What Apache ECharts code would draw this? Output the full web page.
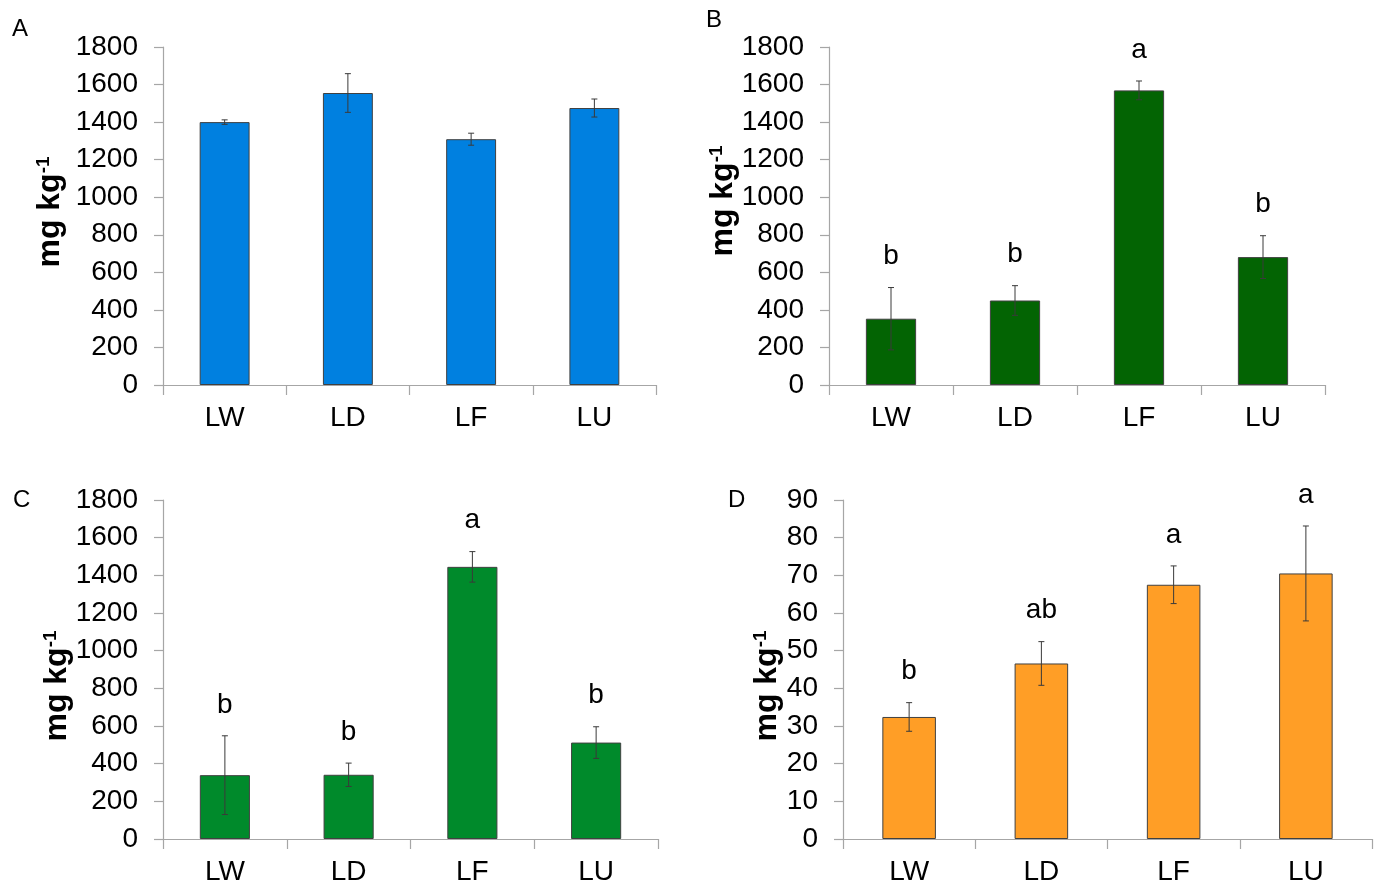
<!DOCTYPE html>
<html>
<head>
<meta charset="utf-8">
<script src="https://cdn.jsdelivr.net/npm/echarts@6/dist/echarts.min.js"></script>
<style>
html,body{margin:0;padding:0;background:#fff;}
#chart{width:1378px;height:885px;}
</style>
</head>
<body>
<div id="chart"></div>
<script>
const categories = ['LW', 'LD', 'LF', 'LU'];

const meanA = [1400, 1555, 1309, 1475];
const errA = [12, 103, 32, 48];
const lettersA = ['', '', '', ''];

const meanB = [353, 450, 1569, 681];
const errB = [166, 79, 50, 114];
const lettersB = ['b', 'b', 'a', 'b'];

const meanC = [339, 341, 1445, 512];
const errC = [209, 62, 81, 84];
const lettersC = ['b', 'b', 'a', 'b'];

const meanD = [32.4, 46.6, 67.5, 70.5];
const errD = [3.8, 5.8, 5.0, 12.6];
const lettersD = ['b', 'ab', 'a', 'a'];

const panelLetters = ['A', 'B', 'C', 'D'];

const FONT = '"Liberation Sans", Arial, sans-serif';
const AXIS_GRAY = '#a6a6a6';

const grids = [
  {left: 163, top: 47, width: 493, height: 338},
  {left: 829, top: 47, width: 496, height: 338},
  {left: 163, top: 500, width: 495, height: 339},
  {left: 843, top: 500, width: 529, height: 339}
];

const panels = [
  {mean: meanA, err: errA, letters: lettersA, color: '#0080e0', max: 1800, interval: 200},
  {mean: meanB, err: errB, letters: lettersB, color: '#036403', max: 1800, interval: 200},
  {mean: meanC, err: errC, letters: lettersC, color: '#008a2b', max: 1800, interval: 200},
  {mean: meanD, err: errD, letters: lettersD, color: '#ff9e26', max: 90, interval: 10}
];

function errorRenderer(letters) {
  return function (params, api) {
    const i = api.value(0);
    const m = api.value(1);
    const e = api.value(2);
    const hi = api.coord([i, m + e]);
    const lo = api.coord([i, m - e]);
    const cap = 3;
    const lineStyle = {stroke: '#3a3a3a', lineWidth: 1};
    const children = [
      {type: 'line', shape: {x1: hi[0], y1: hi[1], x2: lo[0], y2: lo[1]}, style: lineStyle},
      {type: 'line', shape: {x1: hi[0] - cap, y1: hi[1], x2: hi[0] + cap, y2: hi[1]}, style: lineStyle},
      {type: 'line', shape: {x1: lo[0] - cap, y1: lo[1], x2: lo[0] + cap, y2: lo[1]}, style: lineStyle}
    ];
    if (letters[i]) {
      children.push({
        type: 'text',
        x: hi[0], y: hi[1] - 31,
        style: {text: letters[i], fontSize: 28, fontFamily: FONT, fill: '#000', align: 'center', verticalAlign: 'middle'}
      });
    }
    return {type: 'group', children: children};
  };
}

const xAxes = [], yAxes = [], series = [];
panels.forEach(function (p, k) {
  xAxes.push({
    type: 'category', gridIndex: k, data: categories,
    axisLine: {lineStyle: {color: AXIS_GRAY, width: 1.2}},
    axisTick: {show: true, length: 10, lineStyle: {color: AXIS_GRAY, width: 1.2}},
    axisLabel: {color: '#000', fontSize: 28, fontFamily: FONT, margin: 19}
  });
  yAxes.push({
    type: 'value', gridIndex: k, min: 0, max: p.max, interval: p.interval,
    splitLine: {show: false},
    axisLine: {show: true, lineStyle: {color: AXIS_GRAY, width: 1.2}},
    axisTick: {show: true, length: 9, lineStyle: {color: AXIS_GRAY, width: 1.2}},
    axisLabel: {color: '#000', fontSize: 28, fontFamily: FONT, margin: 25,
      formatter: function (v) { return String(v); }}
  });
  series.push({
    type: 'bar', xAxisIndex: k, yAxisIndex: k, data: p.mean,
    barWidth: '40.5%',
    itemStyle: {color: p.color, borderColor: '#404040', borderWidth: 1},
    silent: true
  });
  series.push({
    type: 'custom', xAxisIndex: k, yAxisIndex: k,
    data: categories.map(function (c, i) { return [i, p.mean[i], p.err[i]]; }),
    encode: {x: 0, y: 1},
    renderItem: errorRenderer(p.letters),
    clip: false, silent: true, z: 5
  });
});

const titlePos = [[50, 212], [723, 201], [57, 686], [767, 686]];
const letterPos = [[12, 17], [706, 8], [13, 488], [728, 488]];
const graphics = [];
titlePos.forEach(function (pos) {
  graphics.push({
    type: 'text', x: pos[0], y: pos[1], rotation: Math.PI / 2,
    style: {
      text: '{a|mg kg}{s|-1}',
      align: 'center', verticalAlign: 'middle',
      rich: {
        a: {fontSize: 32, fontWeight: 'bold', fontFamily: FONT, fill: '#000', color: '#000'},
        s: {fontSize: 19, fontWeight: 'bold', fontFamily: FONT, fill: '#000', color: '#000', verticalAlign: 'top'}
      }
    }
  });
});
letterPos.forEach(function (pos, k) {
  graphics.push({
    type: 'text', x: pos[0], y: pos[1],
    style: {text: panelLetters[k], fontSize: 24, fontFamily: FONT, fill: '#000'}
  });
});

const chart = echarts.init(document.getElementById('chart'), null, {renderer: 'canvas'});
chart.setOption({
  animation: false,
  backgroundColor: '#fff',
  grid: grids.map(function (g) { return Object.assign({outerBoundsMode: 'none'}, g); }),
  xAxis: xAxes,
  yAxis: yAxes,
  series: series,
  graphic: graphics
});
</script>
</body>
</html>
